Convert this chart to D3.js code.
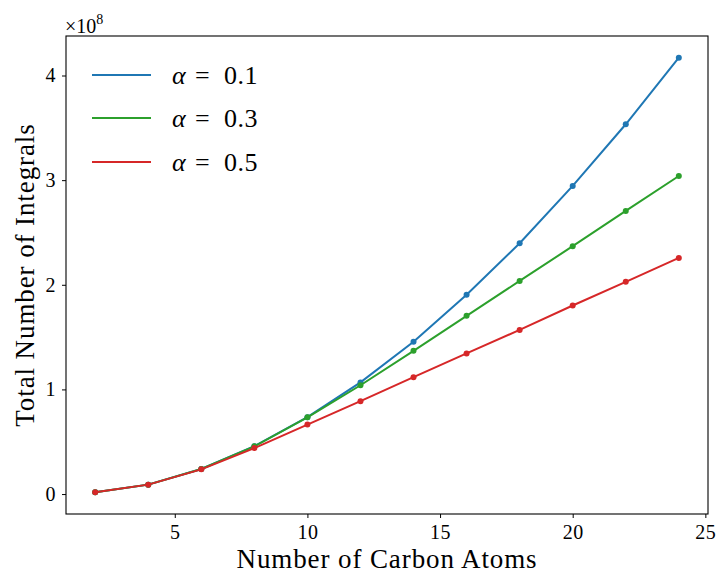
<!DOCTYPE html>
<html>
<head>
<meta charset="utf-8">
<script src="https://cdn.jsdelivr.net/npm/d3@7"></script>
<style>
  html, body { margin: 0; padding: 0; background: #fff; }
  svg { display: block; }
  text, tspan { font-family: "Liberation Serif", "DejaVu Serif", serif; fill: #000; }
</style>
</head>
<body>
<svg id="chart" width="716" height="575"></svg>
<script>
// ---- data ----
const carbonAtoms = [2, 4, 6, 8, 10, 12, 14, 16, 18, 20, 22, 24];
const alpha01 = [0.017, 0.090, 0.240, 0.458, 0.735, 1.067, 1.455, 1.904, 2.397, 2.945, 3.534, 4.170];
const alpha03 = [0.017, 0.090, 0.240, 0.456, 0.733, 1.040, 1.369, 1.703, 2.037, 2.369, 2.706, 3.040];
const alpha05 = [0.017, 0.090, 0.236, 0.439, 0.664, 0.888, 1.117, 1.344, 1.569, 1.802, 2.028, 2.257];
const seriesLabels = ["0.1", "0.3", "0.5"];
const seriesColors = ["#1f77b4", "#2ca02c", "#d62728"];
const xTicks = [5, 10, 15, 20, 25];
const yTicks = [0, 1, 2, 3, 4];

(function () {
const FONT = '"Liberation Serif", "DejaVu Serif", serif';
const series = [alpha01, alpha03, alpha05].map((vals, i) => ({
  label: seriesLabels[i], color: seriesColors[i],
  points: carbonAtoms.map((c, j) => ({ x: c, y: vals[j] }))
}));

// ---- layout ----
const svg = d3.select("#chart");
const mL = 66, mR = 708, mT = 36, mB = 514;

const allY = [].concat(alpha01, alpha03, alpha05);
const xMin = d3.min(carbonAtoms), xMax = d3.max(carbonAtoms);
const yMin = d3.min(allY), yMax = d3.max(allY);
const xPad = (xMax - xMin) * 0.05, yPad = (yMax - yMin) * 0.05;

const x = d3.scaleLinear().domain([xMin - xPad, xMax + xPad]).range([mL, mR]);
const y = d3.scaleLinear().domain([yMin - yPad, yMax + yPad]).range([mB, mT]);

// axes
const xAxis = svg.append("g").attr("transform", `translate(0,${mB})`)
  .call(d3.axisBottom(x).tickValues(xTicks).tickSize(4).tickPadding(5).tickFormat(d3.format("d")));
const yAxis = svg.append("g").attr("transform", `translate(${mL},0)`)
  .call(d3.axisLeft(y).tickValues(yTicks).tickSize(4).tickPadding(6).tickFormat(d3.format("d")));
[xAxis, yAxis].forEach(a => {
  a.attr("font-family", FONT);
  a.select(".domain").remove();
  a.selectAll(".tick line").attr("stroke", "#000").attr("stroke-width", 1);
  a.selectAll(".tick text").style("font-size", "20px").attr("fill", "#000")
    .style("letter-spacing", "0.5px");
});
xAxis.selectAll(".tick text").attr("dy", "0.8em");

// frame
svg.append("rect").attr("x", mL).attr("y", mT)
  .attr("width", mR - mL).attr("height", mB - mT)
  .attr("fill", "none").attr("stroke", "#000").attr("stroke-width", 1.1);

// lines
const line = d3.line().x(d => x(d.x)).y(d => y(d.y));
const g = svg.append("g");
series.forEach(s => {
  g.append("path").datum(s.points).attr("d", line)
    .attr("fill", "none").attr("stroke", s.color).attr("stroke-width", 2);
  g.selectAll(null).data(s.points).enter().append("circle")
    .attr("cx", d => x(d.x)).attr("cy", d => y(d.y)).attr("r", 3)
    .attr("fill", s.color);
});

// multiplier label
const mult = svg.append("text").attr("x", mL - 1).attr("y", mT - 3)
  .attr("font-family", FONT).style("font-size", "20px");
mult.append("tspan").text("×10");
mult.append("tspan").attr("dy", -9).style("font-size", "14px").text("8");

// axis labels
svg.append("text").attr("x", (mL + mR) / 2).attr("y", 568)
  .attr("font-family", FONT).attr("text-anchor", "middle")
  .style("font-size", "27px").style("letter-spacing", "0.9px")
  .text("Number of Carbon Atoms");
svg.append("text").attr("transform", `translate(34,${(mT + mB) / 2}) rotate(-90)`)
  .attr("font-family", FONT).attr("text-anchor", "middle")
  .style("font-size", "27px").style("letter-spacing", "0.9px")
  .text("Total Number of Integrals");

// legend
const legendY = [75, 118, 162];
series.forEach((s, i) => {
  svg.append("line").attr("x1", 92).attr("x2", 151)
    .attr("y1", legendY[i]).attr("y2", legendY[i])
    .attr("stroke", s.color).attr("stroke-width", 2);
  const t = svg.append("text").attr("y", legendY[i] + 9)
    .attr("font-family", FONT).style("font-size", "26px");
  t.append("tspan").attr("x", 172).style("font-style", "italic").text("α");
  t.append("tspan").attr("x", 195).text("=");
  t.append("tspan").attr("x", 224).style("letter-spacing", "0.5px").text(s.label);
});
})();
</script>
</body>
</html>
